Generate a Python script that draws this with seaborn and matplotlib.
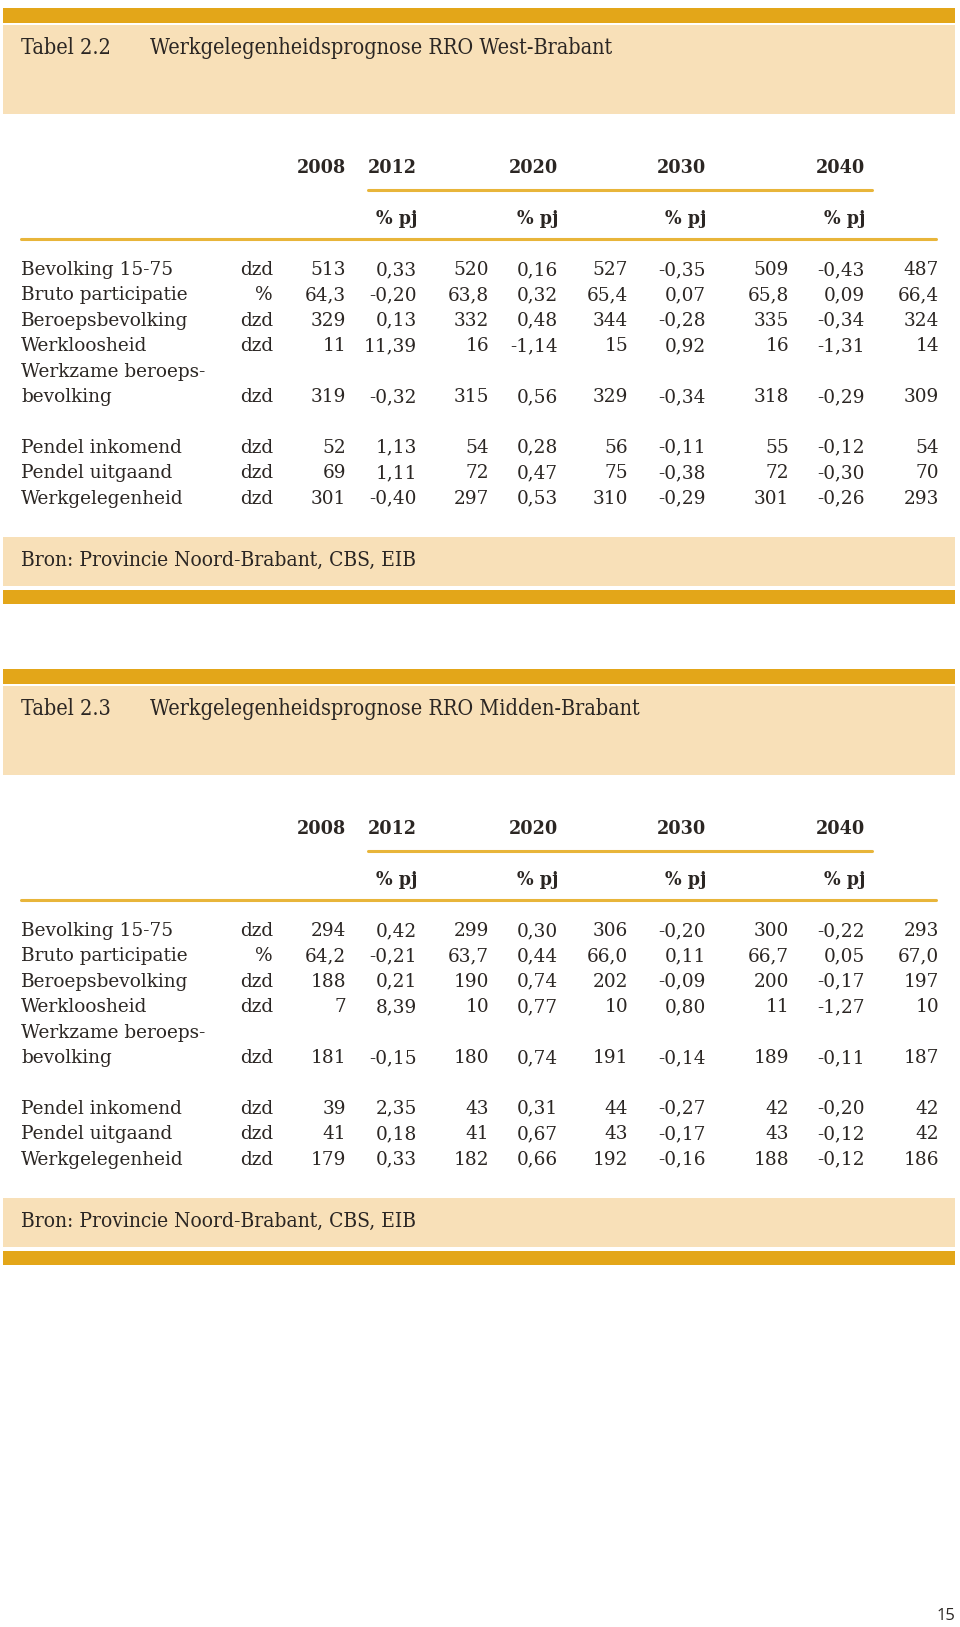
import matplotlib
matplotlib.use("Agg")
import matplotlib.pyplot as plt
import seaborn as sns

#   Table content
titles = ["Werkgelegenheidsprognose RRO West-Brabant",
          "Werkgelegenheidsprognose RRO Midden-Brabant"]
table_nums = ["Tabel 2.2", "Tabel 2.3"]
source = "Bron: Provincie Noord-Brabant, CBS, EIB"

labels = ["Bevolking 15-75", "Bruto participatie", "Beroepsbevolking", "Werkloosheid",
          "bevolking", "Pendel inkomend", "Pendel uitgaand", "Werkgelegenheid"]
units = ["dzd", "%", "dzd", "dzd", "dzd", "dzd", "dzd", "dzd"]
years = ["2008", "2012", "2020", "2030", "2040"]

west = [
    ["513", "0,33", "520", "0,16", "527", "-0,35", "509", "-0,43", "487"],
    ["64,3", "-0,20", "63,8", "0,32", "65,4", "0,07", "65,8", "0,09", "66,4"],
    ["329", "0,13", "332", "0,48", "344", "-0,28", "335", "-0,34", "324"],
    ["11", "11,39", "16", "-1,14", "15", "0,92", "16", "-1,31", "14"],
    ["319", "-0,32", "315", "0,56", "329", "-0,34", "318", "-0,29", "309"],
    ["52", "1,13", "54", "0,28", "56", "-0,11", "55", "-0,12", "54"],
    ["69", "1,11", "72", "0,47", "75", "-0,38", "72", "-0,30", "70"],
    ["301", "-0,40", "297", "0,53", "310", "-0,29", "301", "-0,26", "293"],
]
midden = [
    ["294", "0,42", "299", "0,30", "306", "-0,20", "300", "-0,22", "293"],
    ["64,2", "-0,21", "63,7", "0,44", "66,0", "0,11", "66,7", "0,05", "67,0"],
    ["188", "0,21", "190", "0,74", "202", "-0,09", "200", "-0,17", "197"],
    ["7", "8,39", "10", "0,77", "10", "0,80", "11", "-1,27", "10"],
    ["181", "-0,15", "180", "0,74", "191", "-0,14", "189", "-0,11", "187"],
    ["39", "2,35", "43", "0,31", "44", "-0,27", "42", "-0,20", "42"],
    ["41", "0,18", "41", "0,67", "43", "-0,17", "43", "-0,12", "42"],
    ["179", "0,33", "182", "0,66", "192", "-0,16", "188", "-0,12", "186"],
]

#   Layout (pixel units on a 960 x 1627 canvas)
row_slots = [0, 1, 2, 3, 5, 7, 8, 9]
col_x = [346, 417, 489, 558, 628, 706, 789, 865, 939]
year_x = [346, 417, 558, 706, 865]
dark_gold = "#E3A619"
light = "#F8E0B8"
line_gold = "#E8B53A"
ink = "#2B2623"

sns.set_theme(style="white")
plt.rcParams["font.family"] = ["DejaVu Serif"]

fig = plt.figure(figsize=(9.6, 16.27), dpi=100)
ax = fig.add_axes([0, 0, 1, 1])
ax.set_xlim(0, 960)
ax.set_ylim(1627, 0)
ax.axis("off")


def draw_table(off, title_num, title, data):
    ax.fill_between([3, 955], 8 + off, 23 + off, color=dark_gold, lw=0)
    ax.fill_between([3, 955], 25 + off, 114 + off, color=light, lw=0)
    ax.text(21, 48 + off, title_num, fontsize=15.5, color=ink, va="center",
            fontweight="medium", fontstretch="condensed")
    ax.text(150, 48 + off, title, fontsize=15.5, color=ink, va="center",
            fontweight="medium", fontstretch="condensed")

    for x, y in zip(year_x, years):
        ax.text(x, 168 + off, y, fontsize=14, fontweight="bold", color=ink,
                ha="right", va="center", fontstretch="condensed")
    ax.plot([368, 872], [190 + off, 190 + off], color=line_gold, lw=2.2)
    for x in year_x[1:]:
        ax.text(x, 219 + off, "% pj", fontsize=14, fontweight="bold", color=ink,
                ha="right", va="center", fontstretch="condensed")
    ax.plot([21, 936], [239 + off, 239 + off], color=line_gold, lw=2.2)

    for i, (lab, unit, vals) in enumerate(zip(labels, units, data)):
        y = 270 + 25.4 * row_slots[i] + off
        ax.text(21, y, lab, fontsize=13.3, color=ink, va="center")
        ax.text(273, y, unit, fontsize=13.3, color=ink, va="center", ha="right")
        for x, v in zip(col_x, vals):
            ax.text(x, y, v, fontsize=13.3, color=ink, va="center", ha="right")
    ax.text(21, 270 + 25.4 * 4 + off, "Werkzame beroeps-", fontsize=13.3,
            color=ink, va="center")

    ax.fill_between([3, 955], 537 + off, 586 + off, color=light, lw=0)
    ax.text(21, 560 + off, source, fontsize=15, color=ink, va="center",
            fontstretch="condensed")
    ax.fill_between([3, 955], 590 + off, 604 + off, color=dark_gold, lw=0)


draw_table(0, table_nums[0], titles[0], west)
draw_table(661, table_nums[1], titles[1], midden)

ax.text(955, 1616, "15", fontsize=12, color=ink, ha="right", va="center",
        family=["Open Sans", "DejaVu Sans"])

fig.savefig("out.png", dpi=100)
